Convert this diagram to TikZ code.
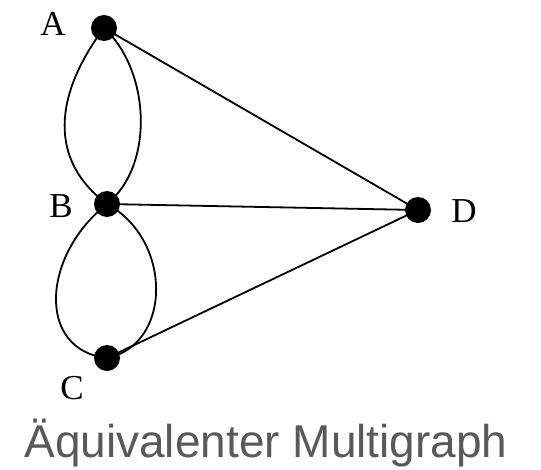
\documentclass[tikz,border=0pt]{standalone}
\usepackage{fontspec}
\setmainfont{Liberation Serif}
\newfontfamily\capfont{Liberation Sans}
\usetikzlibrary{backgrounds}
\begin{document}
\begin{tikzpicture}[x=1pt,y=-1pt,
  dot/.style={circle,fill=black,inner sep=0pt,minimum size=26pt},
  lab/.style={font=\fontsize{35}{35}\selectfont,inner sep=0pt,anchor=base},
  edge/.style={line width=1.8pt,black},
  caption/.style={font=\capfont\fontsize{46}{50}\selectfont,text=black!65,inner sep=0pt,anchor=base}]
\useasboundingbox (0,0) rectangle (541,469);
\node[dot] (A) at (104,28) {};
\node[dot] (B) at (107,204) {};
\node[dot] (C) at (107,358) {};
\node[dot] (D) at (418,210) {};
\node[lab] (lA) at (53,35) {A};
\node[lab] (lB) at (61,217) {B};
\node[lab] (lC) at (72,399) {C};
\node[lab] (lD) at (464,222) {D};
\node[caption] (cap) at (266,457) {Äquivalenter Multigraph};
\begin{scope}[on background layer]
\fill[white] (0,0) rectangle (541,469);
\draw[edge] (A.center) .. controls (54,95) and (48,160) .. (B.center);
\draw[edge] (A.center) .. controls (150,70) and (155,165) .. (B.center);
\draw[edge] (B.center) .. controls (42,255) and (36,350) .. (C.center);
\draw[edge] (B.center) .. controls (173,240) and (172,345) .. (C.center);
\draw[edge] (A.center) -- (D.center);
\draw[edge] (B.center) -- (D.center);
\draw[edge] (C.center) -- (D.center);
\end{scope}
\end{tikzpicture}
\end{document}
